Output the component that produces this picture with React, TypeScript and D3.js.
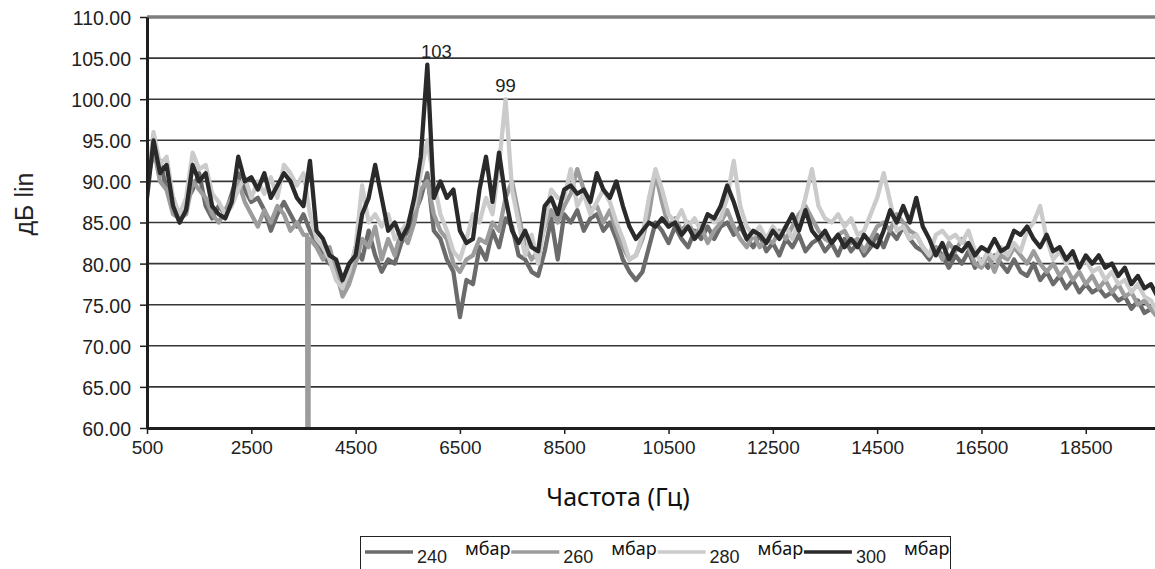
import React, { useEffect, useRef } from "react";
import * as d3 from "d3";

// frequency grid (Hz), 125 Hz bins
const freqs = d3.range(500, 20001, 125);

// levels, dB lin (one row = 1000 Hz)
const s240 = [
  90, 93.5, 92.5, 89, 88, 85, 87.5, 89,
  91, 87, 85.5, 87, 86, 88.5, 91, 89,
  87.5, 88, 86.5, 84, 86, 87.5, 86, 84.5,
  86, 84, 82.5, 81, 80, 79.5, 77, 78.5,
  82, 80.5, 84, 81, 79, 80.5, 80, 82.5,
  84, 86, 88, 91, 84, 83, 80.5, 79,
  73.5, 78, 77.5, 82, 80.5, 84, 82, 85.5,
  84.5, 81, 80.5, 79, 78.5, 81.5, 85.5, 80.5,
  86, 85, 86.5, 84, 85.5, 86, 84, 85,
  83, 80.5, 79, 78, 79, 82, 85, 84,
  82.5, 84.5, 83, 82, 84, 83, 84.5, 83,
  84.5, 85, 83.5, 84.5, 83, 82, 83.5, 81.5,
  82.5, 81, 83, 82, 83.5, 81.5, 82.5, 83,
  81.5, 82.5, 81, 83, 81.5, 82.5, 81, 82,
  83.5, 82, 84, 83, 84.5, 83, 82, 81.5,
  80.5, 82, 81, 79.5, 81, 80, 81.5, 79.5,
  80.5, 79.5, 81, 80, 79, 80.5, 79, 78.5,
  80, 78, 79, 77.5, 78.5, 77, 78, 76.5,
  77.5, 76.5, 77, 76, 76.5, 75.5, 76, 74.5,
  75.5, 74, 74.5, 73.5, 74,
];
const s260 = [
  90, 94, 90, 89, 86, 85.5, 86, 90,
  89, 88, 86, 85, 86.5, 88, 90, 87.5,
  86, 84.5, 86.5, 85, 87, 86, 84, 85,
  83.5, 83, 82, 80.5, 82, 79, 76, 77.5,
  80, 83, 82, 84.5, 80.5, 83, 81, 84,
  82.5, 85, 89, 90, 86, 84, 83, 80,
  79, 80.5, 81, 83, 82.5, 85, 84, 88,
  90, 86, 82, 80.5, 81.5, 84.5, 86.5, 85,
  87, 88.5, 91.5, 89, 86.5, 87, 85, 86.5,
  84, 82, 80.5, 81, 83, 86, 91, 87.5,
  84.5, 85.5, 84, 85, 83.5, 84.5, 82.5, 84,
  85, 86.5, 84.5, 83, 82, 83.5, 82, 83,
  82.5, 84, 83, 84.5, 86, 87, 85.5, 84,
  83, 82.5, 83.5, 84, 82.5, 83, 81.5, 83,
  84.5, 85, 84, 86, 85, 84, 83.5, 82,
  81, 82, 80.5, 82.5, 81.5, 83, 82, 80,
  79.5, 81, 79, 81, 80.5, 82, 81, 80,
  81.5, 80, 79, 80, 78.5, 79.5, 78, 79,
  77.5, 78.5, 77, 78, 76.5, 77.5, 76, 76.5,
  75, 75.5, 74.5, 73.5, 74,
];
const s280 = [
  89, 96, 92, 93, 88, 86, 88, 93.5,
  91.5, 92, 88.5, 87.5, 86, 87, 89, 90.5,
  88, 90, 88.5, 90.5, 88, 92, 91, 89.5,
  91, 86, 83, 82, 80.5, 78, 77, 79,
  82, 89.5, 85, 86, 84.5, 86, 83, 84,
  85, 87, 91, 95, 90, 86, 84, 81.5,
  80.5, 83, 86, 85, 88, 86, 92, 100,
  89, 85, 81, 83.5, 80, 85, 89, 88,
  88, 91.5, 87, 88.5, 86, 87.5, 89, 87.5,
  85, 83, 80.5, 81, 83.5, 88, 91.5, 89,
  86, 85, 86.5, 84.5, 85.5, 84, 86, 85,
  85.5, 88, 92.5, 87, 84.5, 83.5, 84.5, 83,
  84.5, 83.5, 84.5, 83, 85, 88, 91.5, 87,
  85.5, 85, 86, 84.5, 85.5, 83.5, 84, 86,
  88, 91, 87.5, 84, 84.5, 83, 83.5, 82,
  81, 83.5, 84, 83, 83.5, 82.5, 84, 81.5,
  80, 81.5, 80.5, 82, 81, 82.5, 81.5, 84,
  85, 87, 83, 80.5, 81.5, 80, 81, 79.5,
  80.5, 79, 79.5, 78, 79, 77.5, 78, 76.5,
  77.5, 76, 75.5, 74, 75,
];
const s300 = [
  88, 95, 91, 92, 87, 85, 86.5, 92,
  90, 91, 87, 86, 85.5, 87.5, 93, 90,
  90.5, 89, 91, 88, 89.5, 91, 90, 88,
  87, 92.5, 84, 83, 81, 80.5, 78, 80,
  81, 86, 88, 92, 88, 84, 85, 83,
  84.5, 88, 93, 104.2, 88, 90, 88, 89,
  84, 82.5, 83, 89, 93, 87.5, 93.5, 88,
  84, 82.5, 84, 82, 81.5, 87, 88, 86,
  89, 89.5, 88.5, 89, 87.5, 91, 89, 88,
  90, 87, 84.5, 83, 84, 85, 84.5, 85.5,
  84.5, 85, 83.5, 84.5, 83, 84, 86, 85.5,
  87, 89.5, 87.5, 85, 83, 84, 83.5, 82.5,
  84, 83, 84.5, 86, 84, 86.5, 84, 83,
  84, 82.5, 83.5, 82, 83, 82, 83.5, 82.5,
  82, 84, 86.5, 85, 87, 85, 88, 84.5,
  83, 81, 82.5, 80.5, 82, 81.5, 82.5, 81,
  82, 81.5, 83, 81.5, 82, 84, 83.5, 84.5,
  83, 82, 83.5, 81.5, 82, 80.5, 81.5, 79.5,
  81, 80, 81, 79.5, 80, 78.5, 79.5, 77.5,
  78.5, 77, 77.5, 76, 77,
];

// 260 mbar has a dropout near 3.6 kHz
const dropFreqs260 = [3570, 3586, 3602];
const dropVals260 = [83.5, 0, 83];

const seriesNames = ["240", "260", "280", "300"];
const seriesValues = [s240, s260, s280, s300];
const seriesColors = ["#6b6b6b", "#9c9c9c", "#cbcbcb", "#2a2a2a"];
const unit = "мбар";

const yTicks = [60, 65, 70, 75, 80, 85, 90, 95, 100, 105, 110];
const xTicks = [500, 2500, 4500, 6500, 8500, 10500, 12500, 14500, 16500, 18500];

// peak annotations
const peakSeries = ["300", "280"];
const peakFreqs = [5875, 7375];
const peakTexts = ["103", "99"];
const peakDx = [9, 0];

const W = 1155;
const H = 569;
const left = 147;
const top = 17;
const bottom = 428;
const right = 1164;
const arial = "'Liberation Sans', Arial, sans-serif";
const calibri = "'Noto Sans', 'Open Sans', sans-serif";

const Chart = () => {
  const ref = useRef<SVGSVGElement>(null);

  useEffect(() => {
    const svg = d3.select(ref.current);
    svg.selectAll("*").remove();

    const x = d3.scaleLinear().domain([500, 20000]).range([left, right]);
    const y = d3.scaleLinear().domain([60, 110]).range([bottom, top]);

    svg.append("rect").attr("width", W).attr("height", H).attr("fill", "#fff");

    svg
      .append("clipPath")
      .attr("id", "plot-clip")
      .append("rect")
      .attr("x", left)
      .attr("y", top)
      .attr("width", right - left)
      .attr("height", bottom - top);

    // grid
    svg
      .append("g")
      .selectAll("line")
      .data(yTicks.filter((t) => t > 60 && t < 110))
      .enter()
      .append("line")
      .attr("x1", left)
      .attr("x2", right)
      .attr("y1", (d) => y(d))
      .attr("y2", (d) => y(d))
      .attr("stroke", "#363636")
      .attr("stroke-width", 1.6);

    // top border of plot area
    svg
      .append("line")
      .attr("x1", left)
      .attr("x2", right)
      .attr("y1", y(110))
      .attr("y2", y(110))
      .attr("stroke", "#7e7e7e")
      .attr("stroke-width", 3.5);

    // series
    const line = d3
      .line<[number, number]>()
      .x((d) => x(d[0]))
      .y((d) => y(d[1]));

    const lines = svg.append("g").attr("clip-path", "url(#plot-clip)");
    seriesNames.forEach((name, i) => {
      let pts: [number, number][] = freqs.map((f, j) => [f, seriesValues[i][j]]);
      if (name === "260") {
        dropFreqs260.forEach((f, k) => pts.push([f, dropVals260[k]]));
        pts = pts.sort((a, b) => a[0] - b[0]);
      }
      lines
        .append("path")
        .attr("d", line(pts))
        .attr("fill", "none")
        .attr("stroke", seriesColors[i])
        .attr("stroke-width", 4.3)
        .attr("stroke-linejoin", "round");
    });

    // axes
    const yAxis = svg
      .append("g")
      .attr("transform", `translate(${left},0)`)
      .call(
        d3
          .axisLeft(y)
          .tickValues(yTicks)
          .tickFormat(d3.format(".2f"))
          .tickSize(7)
          .tickSizeOuter(0)
          .tickPadding(9)
      );
    yAxis.select(".domain").attr("stroke", "#1e1e1e").attr("stroke-width", 3);
    yAxis.selectAll(".tick line").attr("stroke", "#1e1e1e").attr("stroke-width", 1.5);
    yAxis
      .selectAll("text")
      .attr("fill", "#222")
      .attr("dy", "0.38em")
      .style("font-family", arial)
      .style("font-size", "19.5px");

    const xAxis = svg
      .append("g")
      .attr("transform", `translate(0,${bottom})`)
      .call(
        d3
          .axisBottom(x)
          .tickValues(xTicks)
          .tickFormat(d3.format("d"))
          .tickSize(6)
          .tickSizeOuter(0)
          .tickPadding(7)
      );
    xAxis.select(".domain").attr("stroke", "#1e1e1e").attr("stroke-width", 3);
    xAxis.selectAll(".tick line").attr("stroke", "#1e1e1e").attr("stroke-width", 1.5);
    xAxis
      .selectAll("text")
      .attr("fill", "#222")
      .style("font-family", arial)
      .style("font-size", "19px");

    // peak labels
    peakSeries.forEach((s, i) => {
      const si = seriesNames.indexOf(s);
      const j = freqs.indexOf(peakFreqs[i]);
      svg
        .append("text")
        .attr("x", x(peakFreqs[i]) + peakDx[i])
        .attr("y", y(seriesValues[si][j]) - 7)
        .attr("text-anchor", "middle")
        .attr("fill", "#222")
        .style("font-family", arial)
        .style("font-size", "18.5px")
        .text(peakTexts[i]);
    });

    // axis titles
    svg
      .append("text")
      .attr("transform", "translate(33,204) rotate(-90)")
      .attr("text-anchor", "middle")
      .attr("fill", "#222")
      .style("font-family", arial)
      .style("font-size", "25px")
      .text("дБ lin");

    svg
      .append("text")
      .attr("x", 618)
      .attr("y", 506)
      .attr("text-anchor", "middle")
      .attr("fill", "#111")
      .style("font-family", calibri)
      .style("font-size", "25px")
      .text("Частота (Гц)");

    // legend
    const lg = svg.append("g");
    lg.append("rect")
      .attr("x", 360.5)
      .attr("y", 536.5)
      .attr("width", 590)
      .attr("height", 50)
      .attr("fill", "#fff")
      .attr("stroke", "#222")
      .attr("stroke-width", 1);
    seriesNames.forEach((name, i) => {
      const x0 = 365 + i * 146.3;
      lg.append("line")
        .attr("x1", x0)
        .attr("x2", x0 + 48)
        .attr("y1", 552)
        .attr("y2", 552)
        .attr("stroke", seriesColors[i])
        .attr("stroke-width", 3.5);
      lg.append("text")
        .attr("x", x0 + 52)
        .attr("y", 563)
        .attr("fill", "#222")
        .style("font-family", arial)
        .style("font-size", "18px")
        .text(name);
      lg.append("text")
        .attr("x", x0 + 100)
        .attr("y", 555)
        .attr("fill", "#111")
        .style("font-family", calibri)
        .style("font-size", "18px")
        .text(unit);
    });
  }, []);

  return (
    <svg
      ref={ref}
      width={W}
      height={H}
      style={{ position: "absolute", left: 0, top: 0, display: "block" }}
    />
  );
};

export default function App() {
  return <Chart />;
}
